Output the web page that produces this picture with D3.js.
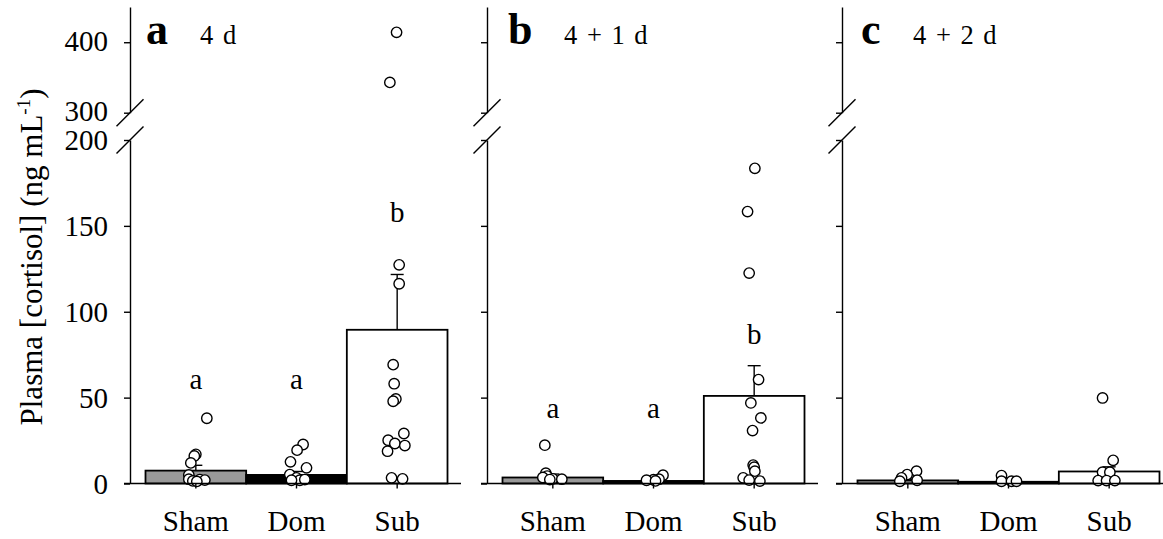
<!DOCTYPE html>
<html>
<head>
<meta charset="utf-8">
<script src="https://cdn.jsdelivr.net/npm/d3@7"></script>
<style>
  body { margin: 0; background: #fff; }
  svg { display: block; font-family: "Liberation Serif", "Times New Roman", serif; }
</style>
</head>
<body>
<svg id="chart" width="1163" height="539"></svg>
<script>
// ---- data -------------------------------------------------------------
const groups = ["Sham", "Dom", "Sub"];
const panelLetters = ["a", "b", "c"];
const panelTitles = ["4 d", "4 + 1 d", "4 + 2 d"];

// group means (ng/mL) and mean + SEM
const meansA = [7.5, 5, 89.5];
const meansB = [3.5, 1.5, 51];
const meansC = [1.8, 1, 7];
const semTopA = [10.6, 7, 121.7];
const semTopB = [5.5, 2.5, 68.6];
const semTopC = [2.5, 1.4, 9.7];

// significance letters and the level they sit at (ng/mL)
const sigA = ["a", "a", "b"];
const sigB = ["a", "a", "b"];
const sigLevelA = [55, 55, 152];
const sigLevelB = [38, 38, 81.5];

// individual fish
const shamA = [38, 17, 16, 12, 5, 2.5, 2.3, 2, 1.5, 1.2];
const domA = [22.7, 19.4, 12.6, 9.1, 5.2, 3.3, 1.9, 2.3, 1.9];
const subA = [414, 343, 127.3, 116.3, 69.2, 58.1, 49.2, 47.9, 29.1, 25.2, 23.3, 22.1, 18.8, 3.3, 2.7];
const shamB = [22.3, 6, 4.3, 3.5, 2.7, 2.5, 2.3];
const domB = [4.8, 2.5, 2.2, 1.9, 1.5];
const subB = [183.5, 158.3, 122.5, 60.5, 46.9, 38.2, 30.8, 10.7, 9.5, 7.2, 3.3, 2, 1.4];
const shamC = [7.2, 5.2, 3.3, 1.9, 1.3];
const domC = [4.6, 1.3, 1.3, 1.3];
const subC = [49.8, 13.5, 6.6, 6.6, 1.7, 1.7, 1.7];

// horizontal scatter of the dots around the group centre (px)
const shamAJitter = [11, 0, -1.5, -5, -7, -7, 4, 9, -3, 1];
const domAJitter = [6.6, 0.6, -6, 10, -6.7, 0, 3.3, 8.3, -5];
const subAJitter = [-0.6, -7.3, 2, 2, -4, -3, -1.3, -4, 6.7, -9, -2.3, 7.7, -9.6, -5.6, 5.4];
const shamBJitter = [-8, -7, -5.7, -10, 0, 9, -3];
const domBJitter = [9.5, 5.5, 0, -7, 2];
const subBJitter = [0.7, -6.6, -5, 4.4, -3.3, 6.7, -1.6, -1, 0, 0.7, -11, -5, 5.7];
const shamCJitter = [8.7, -0.7, -6.3, 9.3, -8];
const domCJitter = [-7, -7, 3, 8];
const subCJitter = [-6.6, 4, -6.6, 0.7, -11, -2.6, 5.7];

const lowerTicks = [0, 50, 100, 150, 200];
const upperTicks = [300, 400];

const barFills = ["#999999", "#000000", "#ffffff"];

// ---- panels -----------------------------------------------------------
const panels = [
  { means: meansA, tops: semTopA, sig: sigA, sigLevel: sigLevelA,
    dots: [shamA, domA, subA], jit: [shamAJitter, domAJitter, subAJitter] },
  { means: meansB, tops: semTopB, sig: sigB, sigLevel: sigLevelB,
    dots: [shamB, domB, subB], jit: [shamBJitter, domBJitter, subBJitter] },
  { means: meansC, tops: semTopC, sig: [], sigLevel: [],
    dots: [shamC, domC, subC], jit: [shamCJitter, domCJitter, subCJitter] }
];

const svg = d3.select("#chart");
const panelLeft = [130, 487, 842];
const panelSpan = 331;
const letterOffset = [16, 21, 19];
const titleOffset = [70, 77, 71];
const FS = 29;

// broken y axis: 0-200 below the break, 300-450 above it
const yLow = d3.scaleLinear().domain([0, 200]).range([483.5, 140]);
const yHigh = d3.scaleLinear().domain([300, 450]).range([112.7, 7]);
const y = v => (v <= 200 ? yLow(v) : yHigh(v));

const x = d3.scaleBand().domain(groups).range([15.5, 317.5]).padding(0);

panels.forEach((p, i) => {
  const g = svg.append("g").attr("transform", `translate(${panelLeft[i]},0)`);

  // bars
  g.selectAll("rect.bar")
    .data(groups)
    .join("rect")
    .attr("class", "bar")
    .attr("x", d => x(d))
    .attr("width", x.bandwidth())
    .attr("y", (d, k) => yLow(p.means[k]))
    .attr("height", (d, k) => yLow(0) - yLow(p.means[k]))
    .attr("fill", (d, k) => barFills[k])
    .attr("stroke", "#000")
    .attr("stroke-width", 1.8);

  // upper error bars
  groups.forEach((grp, k) => {
    const cx = x(grp) + x.bandwidth() / 2;
    g.append("line")
      .attr("x1", cx).attr("x2", cx)
      .attr("y1", yLow(p.means[k])).attr("y2", yLow(p.tops[k]))
      .attr("stroke", "#000").attr("stroke-width", 1.4);
    g.append("line")
      .attr("x1", cx - 6.5).attr("x2", cx + 6.5)
      .attr("y1", yLow(p.tops[k])).attr("y2", yLow(p.tops[k]))
      .attr("stroke", "#000").attr("stroke-width", 1.4);
  });

  // individual values
  groups.forEach((grp, k) => {
    const cx = x(grp) + x.bandwidth() / 2;
    g.selectAll(`circle.g${k}`)
      .data(p.dots[k].map((v, j) => ({ v, dx: p.jit[k][j] })))
      .join("circle")
      .attr("class", `g${k}`)
      .attr("cx", d => cx + d.dx)
      .attr("cy", d => y(d.v))
      .attr("r", 5.2)
      .attr("fill", "#fff")
      .attr("stroke", "#000")
      .attr("stroke-width", 1.4);
  });

  // significance letters
  p.sig.forEach((s, k) => {
    g.append("text")
      .attr("x", x(groups[k]) + x.bandwidth() / 2)
      .attr("y", yLow(p.sigLevel[k]))
      .attr("text-anchor", "middle")
      .attr("font-size", FS)
      .text(s);
  });

  // y axes (lower and upper segments)
  const lowAxis = d3.axisLeft(yLow).tickValues(lowerTicks).tickSize(6).tickSizeOuter(0).tickPadding(16);
  const highAxis = d3.axisLeft(yHigh).tickValues(upperTicks).tickSize(6).tickSizeOuter(0).tickPadding(16);
  if (i > 0) { lowAxis.tickFormat(""); highAxis.tickFormat(""); }
  [lowAxis, highAxis].forEach((ax, n) => {
    const a = g.append("g").call(ax);
    a.selectAll("path, line").attr("stroke", "#000").attr("stroke-width", 1.4);
    a.selectAll("text")
      .attr("font-size", FS)
      .attr("font-family", "Liberation Serif")
      .attr("fill", "#000")
      .attr("dy", n === 1 ? "0.28em" : "0.34em");
  });

  // break marks
  [yHigh(300), yLow(200)].forEach(by => {
    g.append("line")
      .attr("x1", -13.5).attr("y1", by + 13.5)
      .attr("x2", 13.5).attr("y2", by - 13.5)
      .attr("stroke", "#000").attr("stroke-width", 1.4);
  });

  // x axis
  const xa = g.append("g").attr("transform", `translate(0,${yLow(0)})`)
    .call(d3.axisBottom(x).tickSize(5).tickPadding(22));
  xa.select(".domain").remove();
  xa.selectAll("line").attr("stroke", "#000").attr("stroke-width", 1.4);
  xa.selectAll("text").attr("font-size", FS).attr("font-family", "Liberation Serif").attr("fill", "#000");
  g.append("line")
    .attr("x1", -6).attr("x2", panelSpan)
    .attr("y1", yLow(0)).attr("y2", yLow(0))
    .attr("stroke", "#000").attr("stroke-width", 1.4);

  // panel heading
  g.append("text")
    .attr("x", letterOffset[i]).attr("y", 44)
    .attr("font-size", 44).attr("font-weight", "bold")
    .text(panelLetters[i]);
  g.append("text")
    .attr("x", titleOffset[i]).attr("y", 43.5)
    .attr("font-size", 26.5)
    .attr("word-spacing", 3)
    .text(panelTitles[i]);
});

// y axis title
const yt = svg.append("text")
  .attr("transform", "translate(42,257) rotate(-90)")
  .attr("text-anchor", "middle")
  .attr("font-size", 31);
yt.append("tspan").text("Plasma [cortisol] (ng mL");
yt.append("tspan").attr("font-size", 19).attr("dy", -12).text("-1");
yt.append("tspan").attr("dy", 12).text(")");
</script>
</body>
</html>
